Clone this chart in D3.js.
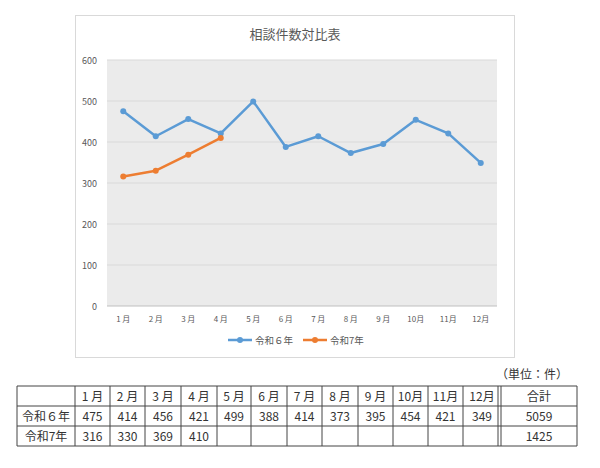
<!DOCTYPE html>
<html><head><meta charset="utf-8">
<script src="https://cdn.jsdelivr.net/npm/d3@7"></script>
<style>body{margin:0;background:#fff;font-family:"Noto Sans CJK JP",sans-serif}</style>
</head><body><svg id="c" width="600" height="468"></svg>
<script>
const months=["1月","2月","3月","4月","5月","6月","7月","8月","9月","10月","11月","12月"];
const r6=[475,414,456,421,499,388,414,373,395,454,421,349];
const r7=[316,330,369,410];
const seriesNames=["令和６年","令和7年"];
const totals=[5059,1425];
const yTicks=[0,100,200,300,400,500,600];
const colors=["#5b9bd5","#ed7d31"];
const svg=d3.select("#c");
const F="'Noto Sans CJK JP',sans-serif";
svg.append("rect").attr("x",75.5).attr("y",15.5).attr("width",439).attr("height",342).attr("fill","#fff").attr("stroke","#d9d9d9");
const x=d3.scaleBand().domain(months).range([107,497]);
const y=d3.scaleLinear().domain([0,600]).range([306,60]);
svg.append("rect").attr("x",107).attr("y",60).attr("width",390).attr("height",246).attr("fill","#ebebeb");
svg.append("g").selectAll("line").data(yTicks).join("line").attr("x1",107).attr("x2",497)
 .attr("y1",d=>y(d)).attr("y2",d=>y(d)).attr("stroke",d=>d==0?"#bfbfbf":"#d9d9d9").attr("stroke-width",1);
svg.append("g").selectAll("text").data(yTicks).join("text").attr("x",97).attr("y",d=>y(d)+3.5)
 .attr("text-anchor","end").attr("font-size",9).attr("fill","#595959").attr("font-family",F).text(d=>d);
svg.append("g").selectAll("text").data(months).join("text").attr("x",d=>x(d)+x.bandwidth()/2).attr("y",322)
 .attr("text-anchor","middle").attr("font-size",8).attr("fill","#595959").attr("font-family",F).text(d=>d.replace("月"," 月").replace(/^(\d\d) /,"$1"));
svg.append("text").attr("x",295).attr("y",39).attr("text-anchor","middle").attr("font-size",13).attr("fill","#595959").attr("font-family",F).text("相談件数対比表");
const cx=(d,i)=>x(months[i])+x.bandwidth()/2;
[r6,r7].forEach((s,k)=>{
 svg.append("path").datum(s).attr("fill","none").attr("stroke",colors[k]).attr("stroke-width",2.5)
  .attr("stroke-linejoin","round").attr("d",d3.line().x(cx).y(d=>y(d)));
 svg.append("g").selectAll("circle").data(s).join("circle").attr("cx",cx).attr("cy",d=>y(d)).attr("r",3).attr("fill",colors[k]);
});
const lg=[{x:228},{x:303}];
seriesNames.forEach((n,k)=>{
 const lx=lg[k].x;
 svg.append("line").attr("x1",lx).attr("x2",lx+24).attr("y1",340).attr("y2",340).attr("stroke",colors[k]).attr("stroke-width",2.5);
 svg.append("circle").attr("cx",lx+12).attr("cy",340).attr("r",3).attr("fill",colors[k]);
 svg.append("text").attr("x",lx+27).attr("y",344).attr("font-size",9.5).attr("fill","#595959").attr("font-family",F).text(n);
});
// table
svg.append("text").attr("x",568).attr("y",379).attr("text-anchor","end").attr("font-size",12).attr("fill","#333").attr("font-family",F).text("（単位：件）");
const colX=[17,75,110,145,181,217,251,287,322,358,393,428,463,501,577];
const rowY=[386,406,426,446];
const g=svg.append("g").attr("stroke","#444").attr("stroke-width",1);
rowY.forEach(v=>g.append("line").attr("x1",17).attr("x2",577).attr("y1",v).attr("y2",v));
colX.forEach(v=>g.append("line").attr("x1",v).attr("x2",v).attr("y1",386).attr("y2",446));
g.append("line").attr("x1",498).attr("x2",498).attr("y1",386).attr("y2",446);
const cells=[[""].concat(months.map(m=>m.replace(/^(\d)月/,"$1 月")),["合計"]),
 ["令和６年"].concat(r6,[totals[0]]),["令和7年"].concat(months.map((m,i)=>r7[i]??""),[totals[1]])];
cells.forEach((row,ri)=>row.forEach((t,ci)=>{
 svg.append("text").attr("x",(colX[ci]+colX[ci+1])/2).attr("y",rowY[ri]+15)
  .attr("text-anchor","middle").attr("font-size",12).attr("fill","#333").attr("font-family",F).text(t);
}));
</script></body></html>
